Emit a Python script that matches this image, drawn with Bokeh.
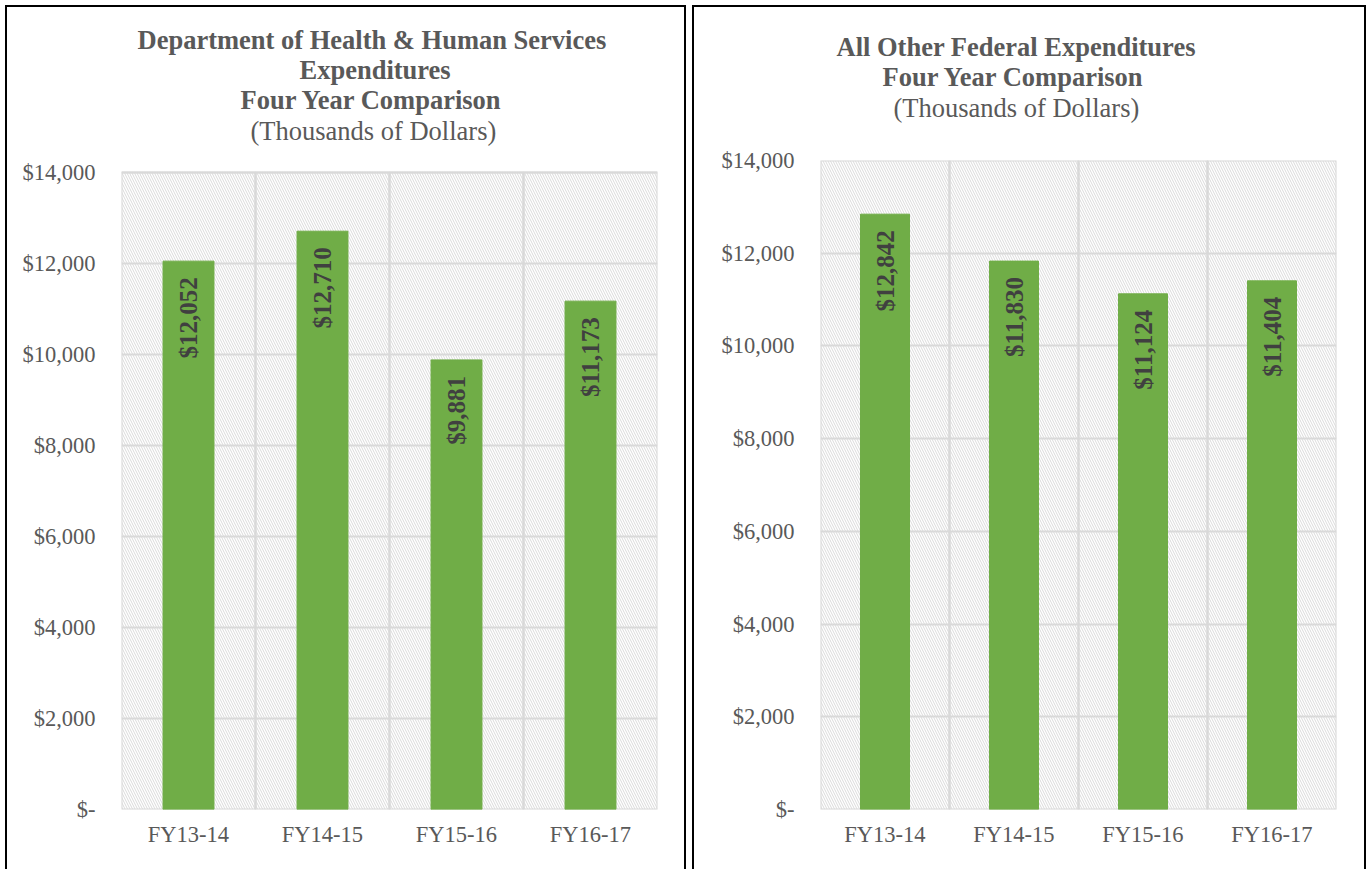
import math
from bokeh.plotting import figure
from bokeh.layouts import row
from bokeh.models import (ColumnDataSource, FixedTicker, BoxAnnotation,
                          Title, Range1d)
from bokeh.core.properties import value
from bokeh.embed import file_html
from bokeh.resources import INLINE

categories = ["FY13-14", "FY14-15", "FY15-16", "FY16-17"]
hhs_values = [12052, 12710, 9881, 11173]
other_values = [12842, 11830, 11124, 11404]
y_ticks = [0, 2000, 4000, 6000, 8000, 10000, 12000, 14000]
y_tick_labels = ["$-", "$2,000", "$4,000", "$6,000", "$8,000", "$10,000", "$12,000", "$14,000"]
hhs_title = ["Department of Health & Human Services", "Expenditures", "Four Year Comparison"]
other_title = ["All Other Federal Expenditures", "Four Year Comparison"]
subtitle = "(Thousands of Dollars)"

FONT = "Liberation Serif"
GRAY = "#595959"
GRID = "#d9d9d9"
GREEN = "#70ad47"

# shared frame (row layouts align the frames): top at 160px, bottom at 809px
FRAME_TOP, FRAME_BOTTOM = 160, 809


def make_panel(values, titles, width, mb_left, mb_right, plot_top,
               title_lefts, sub_left, spacer):
    ymax = y_ticks[-1] * (FRAME_BOTTOM - FRAME_TOP) / (FRAME_BOTTOM - plot_top)
    p = figure(x_range=categories, y_range=Range1d(0, ymax), width=width, height=864,
               output_backend="svg", toolbar_location=None,
               min_border_left=mb_left, min_border_right=mb_right,
               min_border_top=153, min_border_bottom=62,
               background_fill_color="white", border_fill_color="white",
               styles={"border-top": "2px solid black", "border-left": "2px solid black",
                       "border-right": "2px solid black", "box-sizing": "border-box"})
    p.outline_line_color = None

    hatch = BoxAnnotation(top=y_ticks[-1], fill_color="white", fill_alpha=1.0,
                          line_color=None, hatch_pattern="\\", hatch_color="#dadada",
                          hatch_scale=5, hatch_weight=1, level="image")
    p.add_layout(hatch)

    p.ygrid.ticker = FixedTicker(ticks=y_ticks)
    p.ygrid.grid_line_color = GRID
    p.ygrid.grid_line_width = 2
    p.xgrid.grid_line_color = None

    # category cells (vertical separators and plot-area border)
    p.vbar(x=categories, top=y_ticks[-1], width=1.0, fill_color=None,
           line_color=GRID, line_width=2)

    src = ColumnDataSource(dict(cat=categories, val=values,
                                label=["${:,}".format(v) for v in values]))
    p.vbar(x="cat", top="val", width=0.38, color=GREEN, source=src)
    p.text(x="cat", y="val", text="label", source=src, angle=math.pi / 2,
           text_align="right", text_baseline="middle", y_offset=16,
           text_font=value(FONT), text_font_style="bold", text_font_size="25px",
           text_color="#404040")

    p.yaxis.ticker = FixedTicker(ticks=y_ticks)
    p.yaxis.major_label_overrides = dict(zip(y_ticks, y_tick_labels))
    for ax in (p.xaxis[0], p.yaxis[0]):
        ax.axis_line_color = None
        ax.major_tick_line_color = None
        ax.minor_tick_line_color = None
        ax.major_tick_out = 0
        ax.major_tick_in = 0
        ax.major_label_text_font = FONT
        ax.major_label_text_font_size = "22.5px"
        ax.major_label_text_color = GRAY
    p.yaxis.major_label_standoff = 26
    p.xaxis.major_label_standoff = 12

    # titles: the first one added sits nearest the plot frame
    p.add_layout(Title(text=" ", text_font_size="1px", standoff=spacer), "above")
    p.add_layout(Title(text=subtitle, align="left", offset=sub_left, standoff=0,
                       text_font=FONT, text_font_size="26.5px",
                       text_font_style="normal", text_color=GRAY), "above")
    for t, off in reversed(list(zip(titles, title_lefts))):
        p.add_layout(Title(text=t, align="left", offset=off, standoff=-2,
                           text_font=FONT, text_font_size="26.5px",
                           text_font_style="bold", text_color=GRAY), "above")
    return p


p1 = make_panel(hhs_values, hhs_title, 681, 114, 31, 172,
                [16, 178, 119], 129, 12)
p2 = make_panel(other_values, other_title, 674, 126, 32, 160,
                [16, 62], 73, 35)

layout = row(p1, p2, spacing=6, margin=(5, 0, 0, 5))
open("out.html", "w").write(file_html(layout, INLINE))
